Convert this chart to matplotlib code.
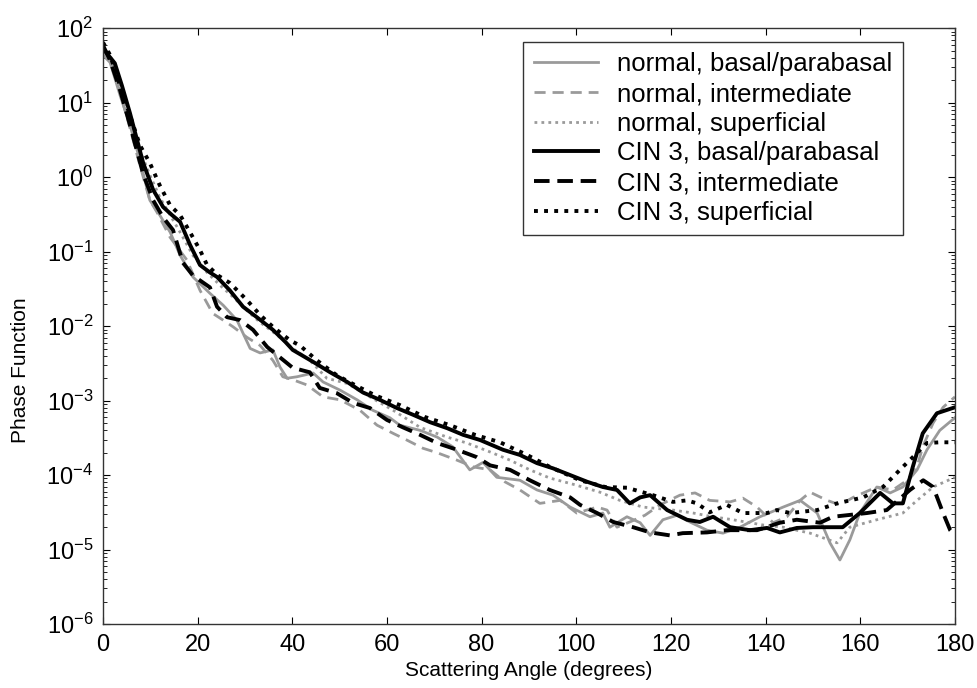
import numpy as np
import matplotlib
matplotlib.use("Agg")
import matplotlib.pyplot as plt

# values: angle in degrees, phase function as log10
nb_ang = [0, 1.5, 3.6, 5.7, 7.8, 9.9, 12.0, 14.2, 16.3, 19.0, 22.6, 25.4, 28.3, 31.1, 33.2, 35.9,
          37.4, 38.9, 41.0, 44.4, 46.5, 50.1, 53.7, 57.0, 60.6, 62.7, 67.0, 70.6, 73.9, 77.5, 80.3,
          83.2, 88.1, 91.7, 95.1, 98.7, 102.9, 105.6, 107.1, 110.7, 113.5, 115.6, 118.3, 121.3,
          124.0, 127.6, 131.0, 134.6, 138.8, 143.7, 147.3, 150.9, 153.6, 155.7, 157.8, 159.9,
          163.5, 166.3, 169.0, 172.0, 174.1, 176.8, 180]
nb_log = [1.64, 1.54, 1.10, 0.70, 0.23, -0.31, -0.51, -0.74, -1.05, -1.34, -1.56, -1.72, -1.92,
          -2.30, -2.36, -2.32, -2.55, -2.70, -2.68, -2.63, -2.75, -2.86, -2.99, -3.13, -3.23,
          -3.33, -3.40, -3.49, -3.62, -3.93, -3.83, -4.03, -4.07, -4.20, -4.27, -4.43, -4.56,
          -4.51, -4.70, -4.56, -4.64, -4.81, -4.60, -4.54, -4.63, -4.74, -4.78, -4.70, -4.56,
          -4.43, -4.34, -4.51, -4.91, -5.14, -4.87, -4.51, -4.16, -4.24, -4.16, -3.93, -3.66,
          -3.40, -3.23]

ni_ang = [0, 1.5, 3.6, 5.7, 7.8, 9.9, 11.4, 14.2, 17.7, 20.5, 23.2, 25.4, 27.5, 30.4, 33.2, 35.9,
          38.0, 40.1, 43.1, 46.5, 50.1, 54.3, 57.9, 61.3, 64.2, 67.6, 70.6, 74.8, 78.2, 81.8,
          84.9, 88.1, 92.3, 96.6, 100.1, 104.4, 106.5, 108.6, 111.3, 114.5, 117.7, 121.9, 125.1,
          128.2, 132.5, 135.2, 138.2, 141.6, 144.5, 147.3, 149.4, 153.0, 155.7, 158.5, 163.5,
          166.9, 169.9, 172.0, 173.2, 175.4, 177.5, 180]
ni_log = [1.70, 1.57, 1.14, 0.66, 0.16, -0.31, -0.47, -0.81, -1.11, -1.52, -1.83, -1.92, -2.01,
          -2.15, -2.26, -2.46, -2.68, -2.72, -2.79, -2.95, -2.99, -3.13, -3.33, -3.44, -3.53,
          -3.64, -3.70, -3.80, -3.89, -3.93, -4.09, -4.20, -4.38, -4.34, -4.51, -4.43, -4.47,
          -4.70, -4.63, -4.54, -4.40, -4.27, -4.24, -4.34, -4.36, -4.31, -4.43, -4.64, -4.56,
          -4.34, -4.23, -4.34, -4.40, -4.30, -4.16, -4.20, -4.07, -3.89, -3.62, -3.30, -3.09,
          -2.95]

ns_ang = [0, 1.5, 3.6, 5.7, 7.8, 9.9, 12.0, 14.2, 16.3, 19.0, 22.0, 24.7, 27.5, 30.4, 33.2, 36.8,
          40.1, 43.7, 47.3, 51.6, 56.4, 61.3, 67.0, 72.7, 76.9, 81.8, 86.0, 90.2, 94.4, 99.7,
          105.0, 109.2, 114.1, 120.4, 124.7, 128.9, 133.1, 136.7, 139.4, 143.7, 149.4, 155.1,
          157.8, 163.5, 169.0, 172.0, 175.4, 180]
ns_log = [1.77, 1.64, 1.23, 0.79, 0.36, 0.03, -0.27, -0.51, -0.74, -1.05, -1.28, -1.45, -1.61,
          -1.79, -1.95, -2.12, -2.30, -2.46, -2.70, -2.77, -2.95, -3.13, -3.36, -3.49, -3.57,
          -3.69, -3.80, -3.93, -4.04, -4.13, -4.23, -4.34, -4.43, -4.47, -4.51, -4.56, -4.60,
          -4.64, -4.67, -4.70, -4.78, -4.91, -4.70, -4.60, -4.51, -4.34, -4.16, -4.03]

cb_ang = [0, 1.1, 2.5, 4.0, 5.7, 7.2, 8.5, 10.6, 12.7, 14.6, 16.3, 18.4, 20.5, 22.6, 24.1, 26.8,
          29.6, 32.5, 35.9, 38.5, 40.1, 44.4, 48.0, 51.6, 54.9, 58.5, 62.1, 65.5, 69.1, 72.7,
          76.1, 79.7, 84.5, 88.1, 91.7, 95.1, 98.7, 102.3, 105.6, 108.6, 111.3, 113.5, 115.6,
          119.2, 123.4, 126.1, 128.9, 132.5, 136.7, 140.3, 143.0, 146.6, 150.0, 156.3, 159.9,
          164.2, 166.9, 169.0, 171.1, 173.2, 176.2, 180]
cb_log = [1.73, 1.64, 1.53, 1.23, 0.86, 0.50, 0.19, -0.17, -0.40, -0.51, -0.60, -0.91, -1.18,
          -1.28, -1.34, -1.52, -1.74, -1.88, -2.05, -2.21, -2.32, -2.48, -2.62, -2.75, -2.89,
          -2.99, -3.10, -3.19, -3.29, -3.37, -3.46, -3.53, -3.66, -3.73, -3.84, -3.91, -4.00,
          -4.09, -4.16, -4.20, -4.38, -4.30, -4.27, -4.47, -4.60, -4.63, -4.56, -4.70, -4.74,
          -4.71, -4.77, -4.71, -4.70, -4.70, -4.51, -4.24, -4.38, -4.38, -3.89, -3.44, -3.17,
          -3.09]

ci_ang = [0, 1.5, 3.6, 5.7, 8.5, 10.6, 12.7, 14.8, 16.9, 19.0, 22.6, 24.1, 26.2, 29.0, 31.7, 34.7,
          37.4, 40.1, 43.7, 45.8, 49.4, 52.8, 56.4, 60.0, 63.4, 67.0, 70.6, 74.8, 79.0, 81.8,
          86.0, 90.2, 94.4, 98.7, 100.8, 104.4, 107.8, 112.0, 115.6, 119.8, 122.5, 127.6, 131.8,
          138.2, 143.0, 146.6, 151.5, 154.2, 161.4, 165.6, 170.5, 173.3, 175.4, 177.5, 179.0,
          180]
ci_log = [1.77, 1.57, 1.17, 0.70, 0.04, -0.31, -0.54, -0.71, -1.15, -1.32, -1.48, -1.74, -1.88,
          -1.92, -2.05, -2.28, -2.42, -2.56, -2.62, -2.83, -2.90, -3.03, -3.10, -3.26, -3.36,
          -3.46, -3.57, -3.66, -3.76, -3.87, -3.93, -4.07, -4.20, -4.30, -4.40, -4.51, -4.63,
          -4.70, -4.77, -4.81, -4.78, -4.77, -4.74, -4.74, -4.64, -4.60, -4.64, -4.56, -4.51,
          -4.47, -4.20, -4.07, -4.16, -4.51, -4.74, -4.81]

cs_ang = [0, 1.5, 3.6, 5.7, 7.8, 9.9, 12.0, 14.2, 16.3, 18.4, 20.5, 22.0, 24.3, 26.8, 30.4, 33.2,
          35.9, 39.5, 41.6, 45.2, 49.4, 53.2, 57.5, 62.7, 68.0, 73.3, 78.6, 83.9, 89.6, 94.4,
          100.8, 106.1, 110.7, 116.2, 120.4, 123.4, 125.5, 128.2, 131.8, 135.2, 140.3, 142.4,
          145.2, 150.9, 155.1, 160.6, 164.8, 169.0, 171.1, 174.1, 176.8, 180]
cs_log = [1.81, 1.64, 1.23, 0.83, 0.43, 0.19, -0.11, -0.38, -0.51, -0.74, -0.98, -1.18, -1.32,
          -1.42, -1.65, -1.85, -2.01, -2.19, -2.26, -2.46, -2.66, -2.79, -2.93, -3.06, -3.22,
          -3.33, -3.46, -3.56, -3.73, -3.89, -4.07, -4.16, -4.17, -4.27, -4.36, -4.34, -4.38,
          -4.50, -4.40, -4.51, -4.51, -4.47, -4.51, -4.47, -4.38, -4.30, -4.16, -3.89, -3.76,
          -3.57, -3.56, -3.56]

labels = ["normal, basal/parabasal", "normal, intermediate", "normal, superficial",
          "CIN 3, basal/parabasal", "CIN 3, intermediate", "CIN 3, superficial"]

plt.rcParams["font.family"] = ["Liberation Sans", "DejaVu Sans"]
plt.rcParams["mathtext.fontset"] = "custom"
plt.rcParams["mathtext.rm"] = "Liberation Sans"

fig = plt.figure(figsize=(9.77, 6.88), dpi=100)
ax = fig.add_axes([0.1054, 0.093, 0.872, 0.866])

gray = "#9a9a9a"
ax.plot(nb_ang, 10 ** np.array(nb_log), color=gray, lw=2.0, ls="-", label=labels[0])
ax.plot(ni_ang, 10 ** np.array(ni_log), color=gray, lw=2.0, ls=(0, (4, 2.5)), label=labels[1])
ax.plot(ns_ang, 10 ** np.array(ns_log), color=gray, lw=2.0, ls=(0, (1, 1.5)), label=labels[2])
ax.plot(cb_ang, 10 ** np.array(cb_log), color="black", lw=2.8, ls="-", label=labels[3])
ax.plot(ci_ang, 10 ** np.array(ci_log), color="black", lw=2.8, ls=(0, (4, 2)), label=labels[4])
ax.plot(cs_ang, 10 ** np.array(cs_log), color="black", lw=2.8, ls=(0, (1, 1.6)), label=labels[5])

ax.set_yscale("log")
ax.set_xlim(0, 180)
ax.set_ylim(1e-6, 1e2)
ax.set_xticks(np.arange(0, 181, 20))
ax.set_yticks([10.0 ** k for k in range(-6, 3)])
ax.tick_params(which="both", direction="in", top=True, right=True, labelsize=17, pad=7)
ax.tick_params(which="major", length=5)
ax.tick_params(which="minor", length=3)
for s in ax.spines.values():
    s.set_linewidth(1.0)
    s.set_color("#333333")

ax.set_xlabel("Scattering Angle (degrees)", fontsize=15)
ax.set_ylabel("Phase Function", fontsize=15)
ax.xaxis.set_label_coords(0.5, -0.062)
ax.yaxis.set_label_coords(-0.097, 0.426)
ax.yaxis.label.set_va("center")

leg = ax.legend(loc="upper right", bbox_to_anchor=(0.939, 0.9765), fontsize=18.5, frameon=True,
                fancybox=False, handlelength=2.5, borderpad=0.4, labelspacing=0.22,
                handletextpad=0.76, borderaxespad=0)
leg.get_frame().set_edgecolor("black")
leg.get_frame().set_linewidth(1.0)

fig.savefig("out.png", dpi=100)
